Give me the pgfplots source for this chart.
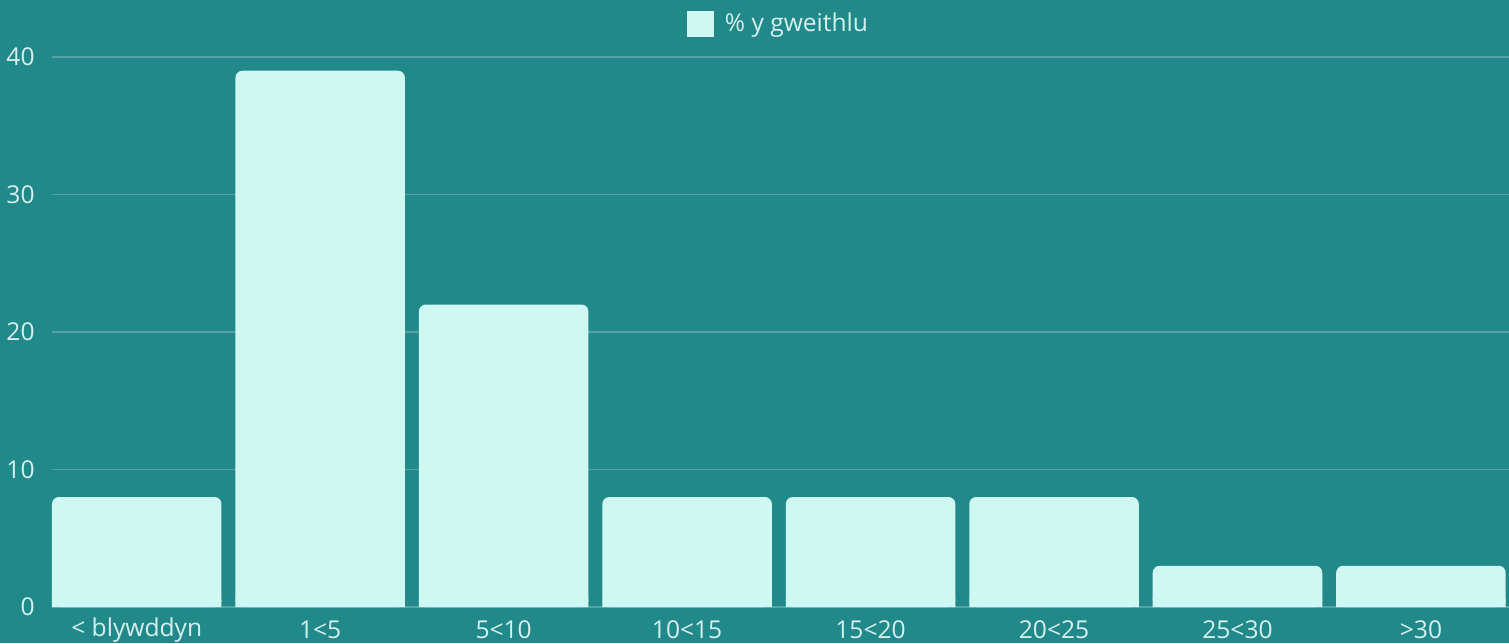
\documentclass[border=0pt]{standalone}
\usepackage{fontspec}
\setmainfont{Open Sans}
\usepackage{pgfplots}
\usepackage{pgfplotstable}
\pgfplotsset{compat=1.18}
\definecolor{bg}{RGB}{34,137,139}
\definecolor{barc}{RGB}{207,248,243}
\definecolor{gridc}{RGB}{88,164,165}
\definecolor{txt}{RGB}{214,240,237}

\pgfplotstableread{
x v
0 8
1 39
2 22
3 8
4 8
5 8
6 3
7 3
}\gweithlu

\begin{document}
\begin{tikzpicture}
\fill[bg] (0,0) rectangle (754.5pt,321.5pt);
\begin{axis}[at={(26pt,18pt)},anchor=south west,
  scale only axis,width=728.5pt,height=275pt,
  xmin=-0.4618,xmax=7.48,ymin=0,ymax=40,
  ytick={0,10,20,30,40},xtick={0,...,7},
  xticklabels={< blywddyn,1<5,5<10,10<15,15<20,20<25,25<30,>30},
  axis line style={draw=none},major tick length=0pt,
  ymajorgrids,grid style={draw=gridc,line width=0.6pt},
  tick label style={font=\fontsize{12.3}{14}\selectfont,text=txt,inner sep=1pt},
  xticklabel style={anchor=center,yshift=-11.5pt},
  yticklabel style={anchor=east,xshift=-7.5pt},
  /pgf/number format/assume math mode=true,
  legend style={at={(0.4993,1.06)},anchor=center,draw=none,fill=none,
    text=txt,font=\fontsize{12.3}{14}\selectfont},
  legend image code/.code={\fill[barc,sharp corners] (-3pt,-6.3pt) rectangle (10.5pt,6.3pt);
    \path (14pt,0pt);},
  clip=false]
\addplot[ybar,bar width=0.924,bar shift=0pt,fill=barc,draw=none,rounded corners=3.5pt]
  table[x=x,y=v]{\gweithlu};
\addlegendentry{\% y gweithlu}
% square off the bottom corners
\addplot[ybar,bar width=0.924,bar shift=0pt,fill=barc,draw=none,sharp corners,forget plot,
  y filter/.expression={min(y,0.6)}]
  table[x=x,y=v]{\gweithlu};
\end{axis}
\pgfresetboundingbox
\useasboundingbox (0,0) rectangle (754.5pt,321.5pt);
\end{tikzpicture}
\end{document}
